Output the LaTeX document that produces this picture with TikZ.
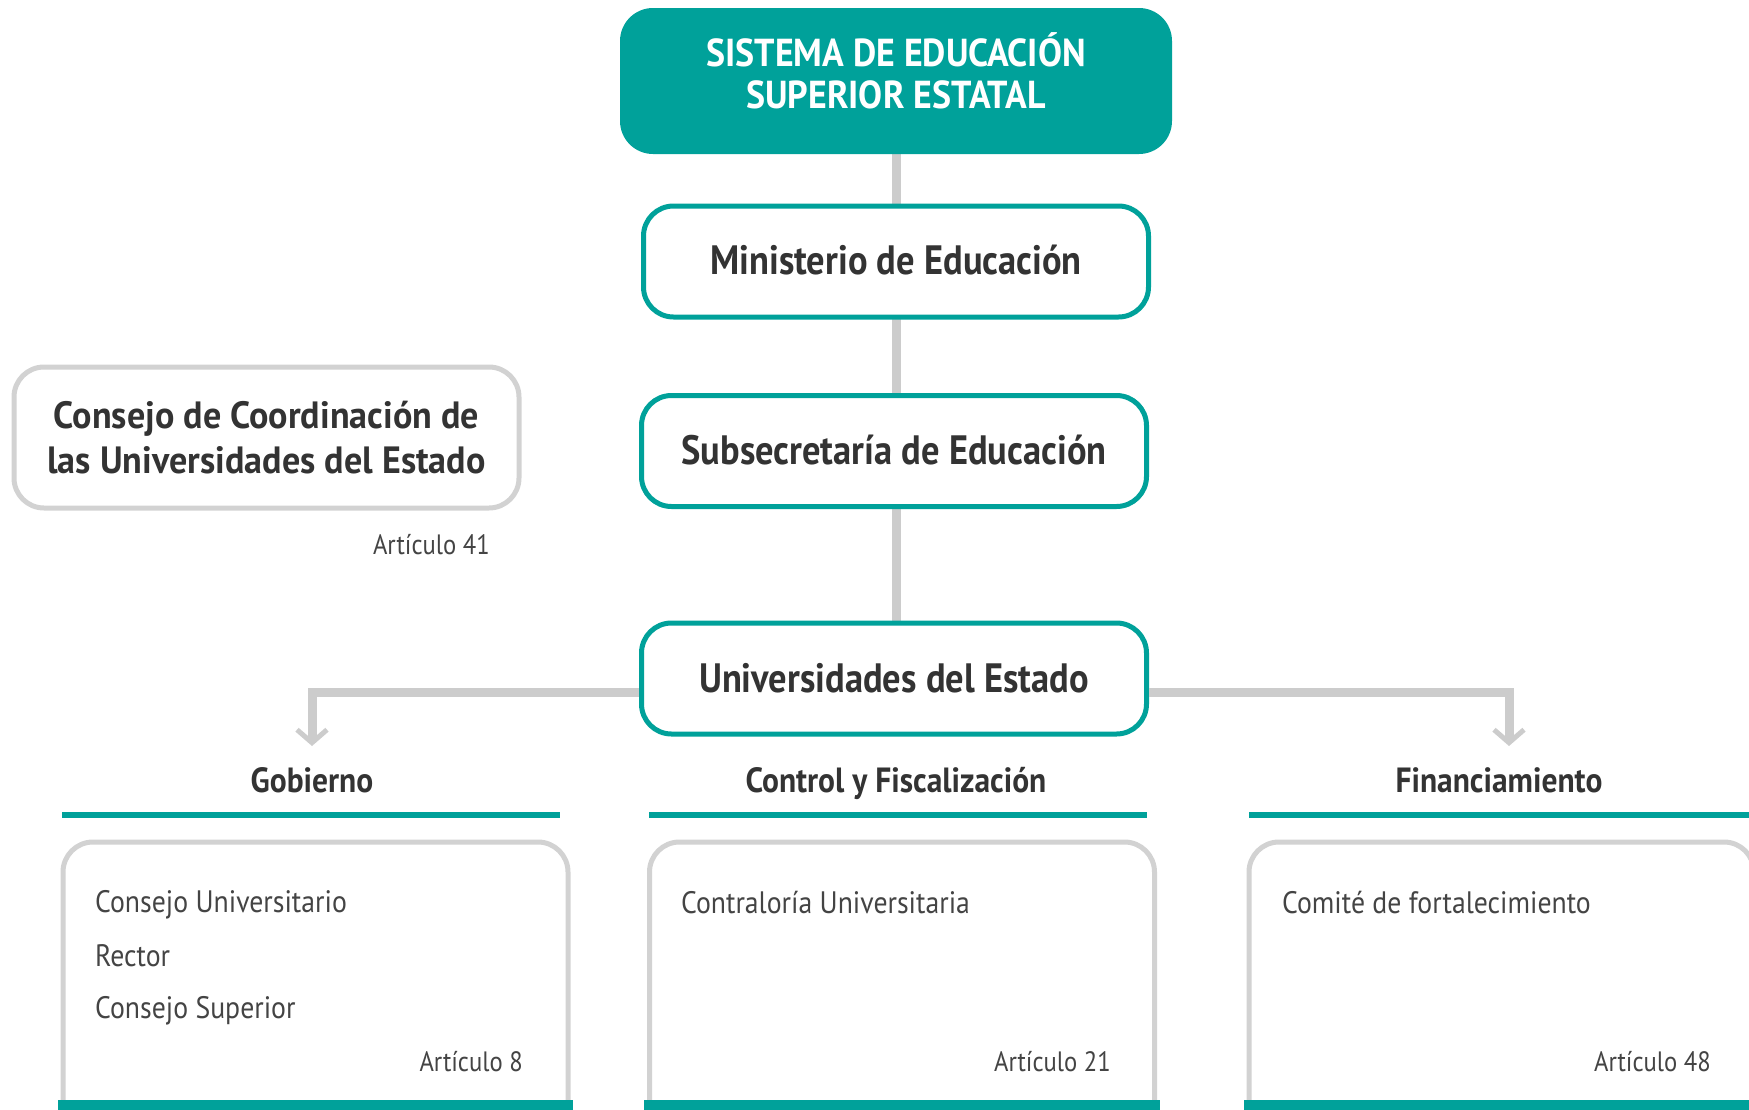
\documentclass[tikz,border=0pt]{standalone}
\usepackage{fontspec}
\setmainfont{PT Sans}
\newfontfamily\headfont[FakeStretch=0.92]{PT Sans}
\newfontfamily\boxfont[FakeStretch=0.89]{PT Sans}
\newfontfamily\consfont[FakeStretch=0.95]{PT Sans}
\newfontfamily\catfont[FakeStretch=0.90]{PT Sans}
\newfontfamily\itemfont[FakeStretch=0.895]{PT Sans}
\newfontfamily\artfont[FakeStretch=0.88]{PT Sans}
\usetikzlibrary{arrows.meta,backgrounds}
\definecolor{teal}{HTML}{00A19A}
\definecolor{lgray}{HTML}{CCCCCC}
\definecolor{bgray}{HTML}{D2D2D2}
\definecolor{ink}{HTML}{333333}
\definecolor{soft}{HTML}{444444}
\tikzset{
  headbox/.style={fill=teal,rounded corners=33pt,minimum width=552pt,minimum height=146pt,inner sep=0pt},
  headtext/.style={text=white,font=\headfont\bfseries\fontsize{39}{42}\selectfont,align=center,inner sep=0pt},
  tealbox/.style={draw=teal,line width=5pt,fill=white,rounded corners=30pt,
    minimum width=505pt,minimum height=111pt,text=ink,font=\boxfont\bfseries\fontsize{41}{44}\selectfont,inner sep=0pt},
  graybox/.style={draw=bgray,line width=5pt,fill=white,rounded corners=30pt,inner sep=0pt},
  conn/.style={draw=lgray,line width=9pt},
  branch/.style={draw=lgray,line width=9pt,-{Straight Barb[length=13pt,width=30pt,line width=5pt]}},
  cat/.style={text=ink,font=\catfont\bfseries\fontsize{35}{38}\selectfont,inner sep=0pt,anchor=base},
  item/.style={text=soft,font=\itemfont\fontsize{31}{34}\selectfont,inner sep=0pt,anchor=west},
  art/.style={text=soft,font=\artfont\fontsize{28}{32}\selectfont,inner sep=0pt,anchor=east},
  tealline/.style={draw=teal,line width=6pt},
  tealfoot/.style={fill=teal,draw=none}
}
\begin{document}
\begin{tikzpicture}[x=1pt,y=-1pt]
\useasboundingbox (0,0) rectangle (1749,1109);
% top
\node[headbox] (sys) at (896,81) {};
\node[headtext] (systxt) at ([yshift=10pt]sys.center) {SISTEMA DE EDUCACIÓN\\SUPERIOR ESTATAL};
\node[tealbox] (min) at (896,261.5) {\raisebox{3pt}{Ministerio de Educación}};
\node[tealbox] (sub) at (894,451) {\raisebox{2pt}{Subsecretaría de Educación}};
\node[tealbox] (uni) at (894,678.5) {Universidades del Estado};
% consejo
\node[graybox,minimum width=505pt,minimum height=141pt,text=ink,
  font=\consfont\bfseries\fontsize{38}{45}\selectfont,align=center] (cons) at (266.5,437.5)
  {Consejo de Coordinación de\\las Universidades del Estado};
\node[art] (a41) at (490,545) {Artículo 41};
% connectors
\begin{scope}[on background layer]
\draw[conn] (sys.south) -- (sys.south |- uni.north);
\end{scope}
\coordinate (gtip) at (312,746);
\coordinate (ftip) at (1509,746);
\draw[branch] ([yshift=-13.5pt]uni.west) -| (gtip);
\draw[branch] ([yshift=-13.5pt]uni.east) -| (ftip);
% categories
\node[cat] (gob) at (312,792) {Gobierno};
\node[cat] (ctl) at (896,792) {Control y Fiscalización};
\node[cat] (fin) at (1499,792) {Financiamiento};
\draw[tealline] (62,815) -- (560,815);
\draw[tealline] (649,815) -- (1147,815);
\draw[tealline] (1249,815) -- (1760,815);
% bottom boxes
\node[graybox,minimum width=505pt,minimum height=300pt] (bg) at (315.5,992) {};
\node[graybox,minimum width=505pt,minimum height=300pt] (bc) at (902,992) {};
\node[graybox,minimum width=505pt,minimum height=300pt] (bf) at (1501.5,992) {};
\fill[tealfoot] (58,1100) rectangle (573,1112);
\fill[tealfoot] (644,1100) rectangle (1160,1112);
\fill[tealfoot] (1244,1100) rectangle (1760,1112);
% items
\node[item] (g1) at (95,905) {Consejo Universitario};
\node[item] (g2) at (95,956) {Rector};
\node[item] (g3) at (95,1011) {Consejo Superior};
\node[art] (a8) at (523,1062) {Artículo 8};
\node[item] (c1) at (681,903) {Contraloría Universitaria};
\node[art] (a21) at (1111,1062) {Artículo 21};
\node[item] (f1) at (1282,903) {Comité de fortalecimiento};
\node[art] (a48) at (1711,1062) {Artículo 48};
\end{tikzpicture}
\end{document}
